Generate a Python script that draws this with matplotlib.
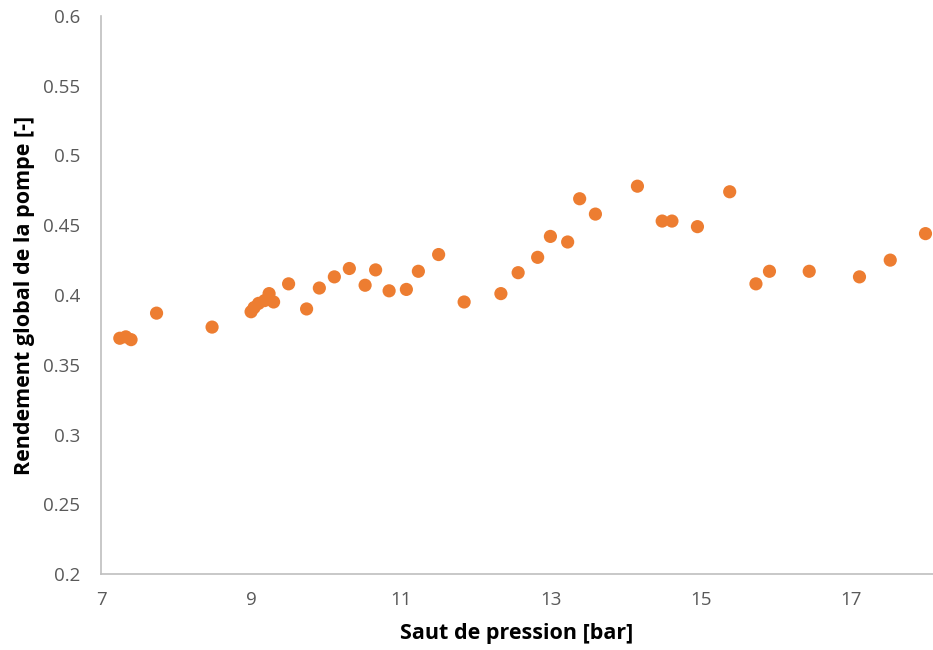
import matplotlib
matplotlib.use("Agg")
import matplotlib.pyplot as plt

# saut de pression [bar] et rendement global de la pompe [-]
pression = [7.25, 7.33, 7.40, 7.74, 8.48,
            9.00, 9.04, 9.10, 9.18, 9.24, 9.30,
            9.50, 9.74, 9.91, 10.11, 10.31, 10.52, 10.66, 10.84, 11.07,
            11.23, 11.50, 11.84, 12.33, 12.56, 12.82, 12.99, 13.22, 13.38,
            13.59, 14.15, 14.48, 14.61, 14.95, 15.38, 15.73, 15.91, 16.44,
            17.11, 17.52, 17.99]
rendement = [0.369, 0.370, 0.368, 0.387, 0.377,
             0.388, 0.391, 0.394, 0.396, 0.401, 0.395,
             0.408, 0.390, 0.405, 0.413, 0.419, 0.407, 0.418, 0.403, 0.404,
             0.417, 0.429, 0.395, 0.401, 0.416, 0.427, 0.442, 0.438, 0.469,
             0.458, 0.478, 0.453, 0.453, 0.449, 0.474, 0.408, 0.417, 0.417,
             0.413, 0.425, 0.444]

xticks = [7, 9, 11, 13, 15, 17]
yticks = [0.2, 0.25, 0.3, 0.35, 0.4, 0.45, 0.5, 0.55, 0.6]

plt.rcParams['font.family'] = ['Open Sans', 'DejaVu Sans']

fig = plt.figure(figsize=(9.33, 6.5), dpi=100)
ax = fig.add_axes([0.1083, 0.1169, 0.8917, 0.8585])

ax.scatter(pression, rendement, s=90, color='#ED7D31', edgecolors='none', zorder=3)

ax.set_xlim(7, 18.09)
ax.set_ylim(0.2, 0.6)
ax.set_xticks(xticks)
ax.set_yticks(yticks)
ax.set_xticklabels([str(t) for t in xticks])
ax.set_yticklabels(['0.2', '0.25', '0.3', '0.35', '0.4', '0.45', '0.5', '0.55', '0.6'])

for s in ['top', 'right']:
    ax.spines[s].set_visible(False)
for s in ['left', 'bottom']:
    ax.spines[s].set_color('#BFBFBF')
    ax.spines[s].set_linewidth(1.2)

ax.tick_params(axis='both', length=0, labelsize=13.5, labelcolor='#595959')
ax.tick_params(axis='y', pad=15)
ax.tick_params(axis='x', pad=12)

ax.set_xlabel('Saut de pression [bar]', fontsize=15.5, fontweight='bold', labelpad=10)
ax.set_ylabel('Rendement global de la pompe [-]', fontsize=15.5, fontweight='bold', labelpad=6)

fig.savefig('out.png', dpi=100)
